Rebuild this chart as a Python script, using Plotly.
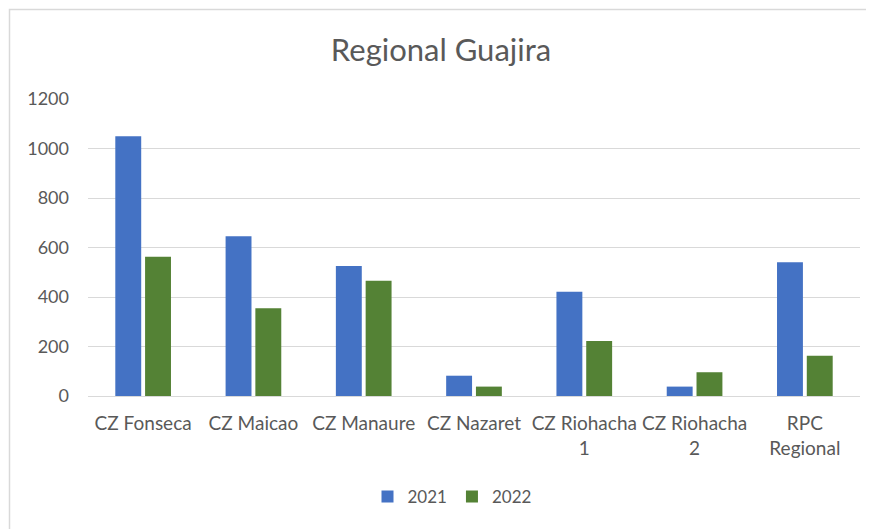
import plotly.graph_objects as go

categories = ["CZ Fonseca", "CZ Maicao", "CZ Manaure", "CZ Nazaret",
              "CZ Riohacha<br>1", "CZ Riohacha<br>2", "RPC<br>Regional"]
values_2021 = [1050, 645, 525, 82, 421, 38, 540]
values_2022 = [563, 355, 466, 38, 222, 96, 163]
tick_vals = [0, 200, 400, 600, 800, 1000, 1200]

FONT = "Lato, Roboto, sans-serif"
TXT = "#595959"

fig = go.Figure()
fig.add_trace(go.Bar(name="2021", x=categories, y=values_2021,
                     marker=dict(color="#4472C4", line=dict(width=0))))
fig.add_trace(go.Bar(name="2022", x=categories, y=values_2022,
                     marker=dict(color="#548235", line=dict(width=0))))

OFF = 8  # page body margin
W, H = 874 - OFF, 529 - OFF
ml, mr, mt, mb = 88 - OFF, 14, 99 - OFF, 133
pw = W - ml - mr
ph = H - mt - mb

fig.update_layout(
    width=W, height=H,
    margin=dict(l=ml, r=mr, t=mt, b=mb),
    paper_bgcolor="white", plot_bgcolor="white",
    barmode="group", bargap=0.46, bargroupgap=0.13,
    title=dict(text="Regional Guajira", x=0.5, xanchor="center",
               y=1 - (50 - OFF) / H, yanchor="middle",
               font=dict(family=FONT, size=31, color=TXT)),
    font=dict(family=FONT, size=17, color=TXT),
    legend=dict(orientation="h", x=(452 - 88) / pw, xanchor="center",
                y=-(497 - OFF - (mt + ph)) / ph, yanchor="middle",
                font=dict(family=FONT, size=17, color=TXT),
                itemwidth=30, traceorder="normal"),
    xaxis=dict(showgrid=False, showline=True, linecolor="#D9D9D9",
               linewidth=1, ticks="", ticklabelstandoff=10,
               tickfont=dict(family=FONT, size=19, color=TXT)),
    yaxis=dict(range=[0, 1200], tickvals=tick_vals, showgrid=True,
               gridcolor="#D9D9D9", gridwidth=1, zeroline=False,
               showline=False, ticks="", ticklabelstandoff=18,
               tickfont=dict(family=FONT, size=18, color=TXT)),
    shapes=[dict(type="rect", xref="paper", yref="paper",
                 x0=-(ml - 1.5) / pw, x1=(W + 20 - ml) / pw,
                 y0=-(H + 20 - mt - ph) / ph, y1=1 + (mt - 1.5) / ph,
                 line=dict(color="#D9D9D9", width=1.5), layer="below")],
)

fig.write_html("out.html")
